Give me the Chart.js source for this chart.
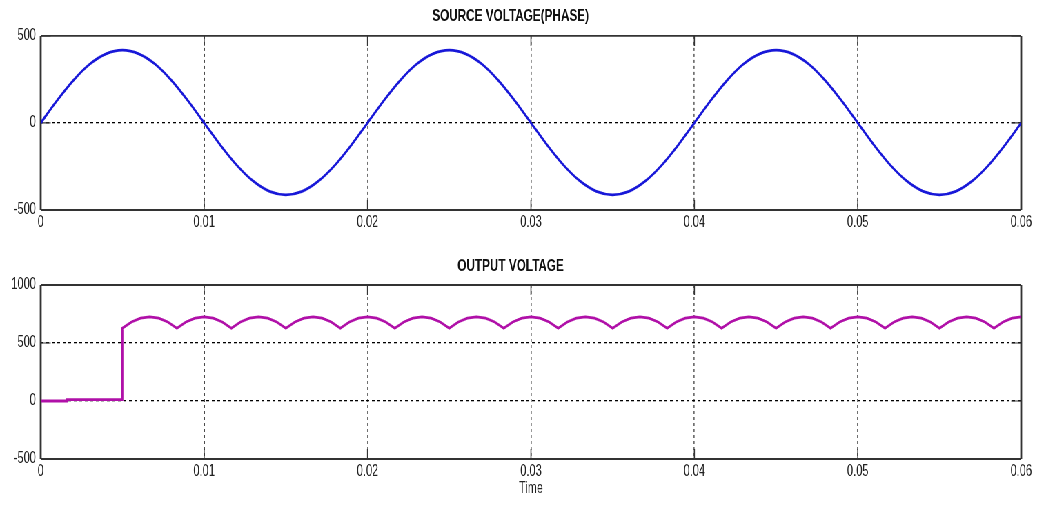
<!DOCTYPE html>
<html>
<head>
<meta charset="utf-8">
<title>Source and output voltage</title>
<script src="https://cdn.jsdelivr.net/npm/chart.js@4.4.1/dist/chart.umd.min.js"></script>
<style>
  html, body { margin: 0; padding: 0; background: #fff; overflow: hidden; }
  /* plots are laid out wide and squeezed horizontally, like a narrow scope export */
  #stage { position: absolute; left: 0; top: 0; width: 1503px; height: 505px; transform: scaleX(0.69); transform-origin: 0 0; }
  #stage canvas { position: absolute; left: 0; }
</style>
</head>
<body>
<div id="stage">
  <canvas id="sourceChart" width="1503" height="240" style="top:0"></canvas>
  <canvas id="outputChart" width="1503" height="265" style="top:240px"></canvas>
</div>
<script>
const SQUASH = 0.69;
const FONT = "'Liberation Sans', Arial, Helvetica, sans-serif";

// phase voltage, one sample per ms
const SOURCE_STEP = 0.001;
const sourceVolts = [
    0, 129, 245, 338, 397, 418, 397, 338, 245, 129,
    0, -128, -243, -334, -393, -413, -393, -334, -243, -128,
    0, 129, 245, 338, 397, 418, 397, 338, 245, 129,
    0, -128, -243, -334, -393, -413, -393, -334, -243, -128,
    0, 129, 245, 338, 397, 418, 397, 338, 245, 129,
    0, -128, -243, -334, -393, -413, -393, -334, -243, -128,
    0
];

// output before the bridge fires
const startTime = [0, 0.0016, 0.0016, 0.005];
const startVolts = [0, 0, 12, 12];

// rectified output from 5 ms on, sampled every 1/1800 s
const RIPPLE_START = 0.005;
const RIPPLE_STEP = 1 / 1800;
const rippleVolts = [
    628, 681, 714, 725, 714, 681,
    628, 681, 714, 725, 714, 681,
    628, 681, 714, 725, 714, 681,
    628, 681, 714, 725, 714, 681,
    628, 681, 714, 725, 714, 681,
    628, 681, 714, 725, 714, 681,
    628, 681, 714, 725, 714, 681,
    628, 681, 714, 725, 714, 681,
    628, 681, 714, 725, 714, 681,
    628, 681, 714, 725, 714, 681,
    628, 681, 714, 725, 714, 681,
    628, 681, 714, 725, 714, 681,
    628, 681, 714, 725, 714, 681,
    628, 681, 714, 725, 714, 681,
    628, 681, 714, 725, 714, 681,
    628, 681, 714, 725, 714, 681,
    628, 681, 714, 725
];

const xTicks = [0, 0.01, 0.02, 0.03, 0.04, 0.05, 0.06];
const xTickLabels = ['0', '0.01', '0.02', '0.03', '0.04', '0.05', '0.06'];
const sourceYTicks = [-500, 0, 500];
const outputYTicks = [-500, 0, 500, 1000];

const sourcePoints = sourceVolts.map((v, i) => ({ x: i * SOURCE_STEP, y: v }));
const outputPoints = startTime.map((t, i) => ({ x: t, y: startVolts[i] }))
    .concat(rippleVolts.map((v, i) => ({ x: RIPPLE_START + i * RIPPLE_STEP, y: v })));

// box round the plot area plus short inward tick marks
const axesBox = {
    id: 'axesBox',
    beforeDatasetsDraw(chart) {
        const { ctx, chartArea: a, scales } = chart;
        const tick = 10;
        ctx.save();
        ctx.strokeStyle = '#333';

        ctx.lineWidth = 1.6;
        scales.x.ticks.forEach((t) => {
            const px = scales.x.getPixelForValue(t.value);
            ctx.beginPath();
            ctx.moveTo(px, a.bottom);
            ctx.lineTo(px, a.bottom - tick);
            ctx.moveTo(px, a.top);
            ctx.lineTo(px, a.top + tick);
            ctx.stroke();
        });

        ctx.lineWidth = 1.2;
        scales.y.ticks.forEach((t) => {
            const py = scales.y.getPixelForValue(t.value);
            ctx.beginPath();
            ctx.moveTo(a.left, py);
            ctx.lineTo(a.left + tick / SQUASH, py);
            ctx.moveTo(a.right, py);
            ctx.lineTo(a.right - tick / SQUASH, py);
            ctx.stroke();
        });

        ctx.lineWidth = 1.8;
        ctx.beginPath();
        ctx.moveTo(a.left, a.top);
        ctx.lineTo(a.right, a.top);
        ctx.moveTo(a.left, a.bottom);
        ctx.lineTo(a.right, a.bottom);
        ctx.stroke();

        ctx.lineWidth = 2.8;
        ctx.beginPath();
        ctx.moveTo(a.left, a.top);
        ctx.lineTo(a.left, a.bottom);
        ctx.moveTo(a.right, a.top);
        ctx.lineTo(a.right, a.bottom);
        ctx.stroke();
        ctx.restore();
    }
};

const xGridColor = (c) => {
    const v = c.tick ? c.tick.value : null;
    if (v === 0 || v === 0.06) return 'rgba(0,0,0,0)';
    if (v === 0.01) return '#000';
    return '#707070';
};

const voltageChart = (id, opts) => {
    const yMin = opts.yTicks[0];
    const yMax = opts.yTicks[opts.yTicks.length - 1];

    return new Chart(document.getElementById(id), {
        type: 'line',
        data: {
            datasets: [{
                data: opts.points,
                borderColor: opts.color,
                borderWidth: 2.8,
                pointRadius: 0,
                fill: false,
                tension: 0,
                cubicInterpolationMode: opts.smooth ? 'monotone' : 'default',
            }],
        },
        options: {
            responsive: false,
            animation: false,
            devicePixelRatio: 1,
            layout: { padding: { left: 0, right: 23, top: 0, bottom: 0 } },
            plugins: {
                legend: { display: false },
                tooltip: { enabled: false },
                title: {
                    display: true,
                    text: opts.title,
                    color: '#111',
                    font: { family: FONT, size: 17, weight: 'bold', lineHeight: 1.2 },
                    padding: opts.titlePadding,
                },
            },
            scales: {
                x: {
                    type: 'linear',
                    min: 0,
                    max: 0.06,
                    afterBuildTicks: (s) => { s.ticks = xTicks.map((v) => ({ value: v })); },
                    afterFit: (s) => { s.height = opts.xHeight; },
                    ticks: {
                        callback: (v, i) => xTickLabels[i],
                        color: '#222',
                        font: { family: FONT, size: 16 },
                        padding: 3,
                        maxRotation: 0,
                        autoSkip: false,
                    },
                    grid: { drawTicks: false, lineWidth: 1.7, color: xGridColor },
                    border: { display: false, dash: [3, 3] },
                    title: opts.xTitle
                        ? { display: true, text: opts.xTitle, color: '#222', font: { family: FONT, size: 16 }, padding: { top: 0, bottom: 7 } }
                        : { display: false },
                },
                y: {
                    type: 'linear',
                    min: yMin,
                    max: yMax,
                    afterBuildTicks: (s) => { s.ticks = opts.yTicks.map((v) => ({ value: v })); },
                    afterFit: (s) => { s.width = 59; },
                    ticks: {
                        callback: (v) => String(v),
                        color: '#222',
                        font: { family: FONT, size: 16 },
                        padding: 7,
                    },
                    grid: {
                        drawTicks: false,
                        lineWidth: 1.3,
                        color: (c) => (c.tick && (c.tick.value === yMin || c.tick.value === yMax)) ? 'rgba(0,0,0,0)' : '#000',
                    },
                    border: { display: false, dash: [4, 4] },
                },
            },
        },
        plugins: [axesBox],
    });
};

voltageChart('sourceChart', {
    title: 'SOURCE VOLTAGE(PHASE)',
    titlePadding: { top: 6, bottom: 9.5 },
    points: sourcePoints,
    color: '#1818d8',
    smooth: true,
    yTicks: sourceYTicks,
    xHeight: 30,
});

voltageChart('outputChart', {
    title: 'OUTPUT VOLTAGE',
    titlePadding: { top: 15.8, bottom: 8.8 },
    points: outputPoints,
    color: '#b010a8',
    smooth: false,
    yTicks: outputYTicks,
    xHeight: 46,
    xTitle: 'Time',
});
</script>
</body>
</html>
